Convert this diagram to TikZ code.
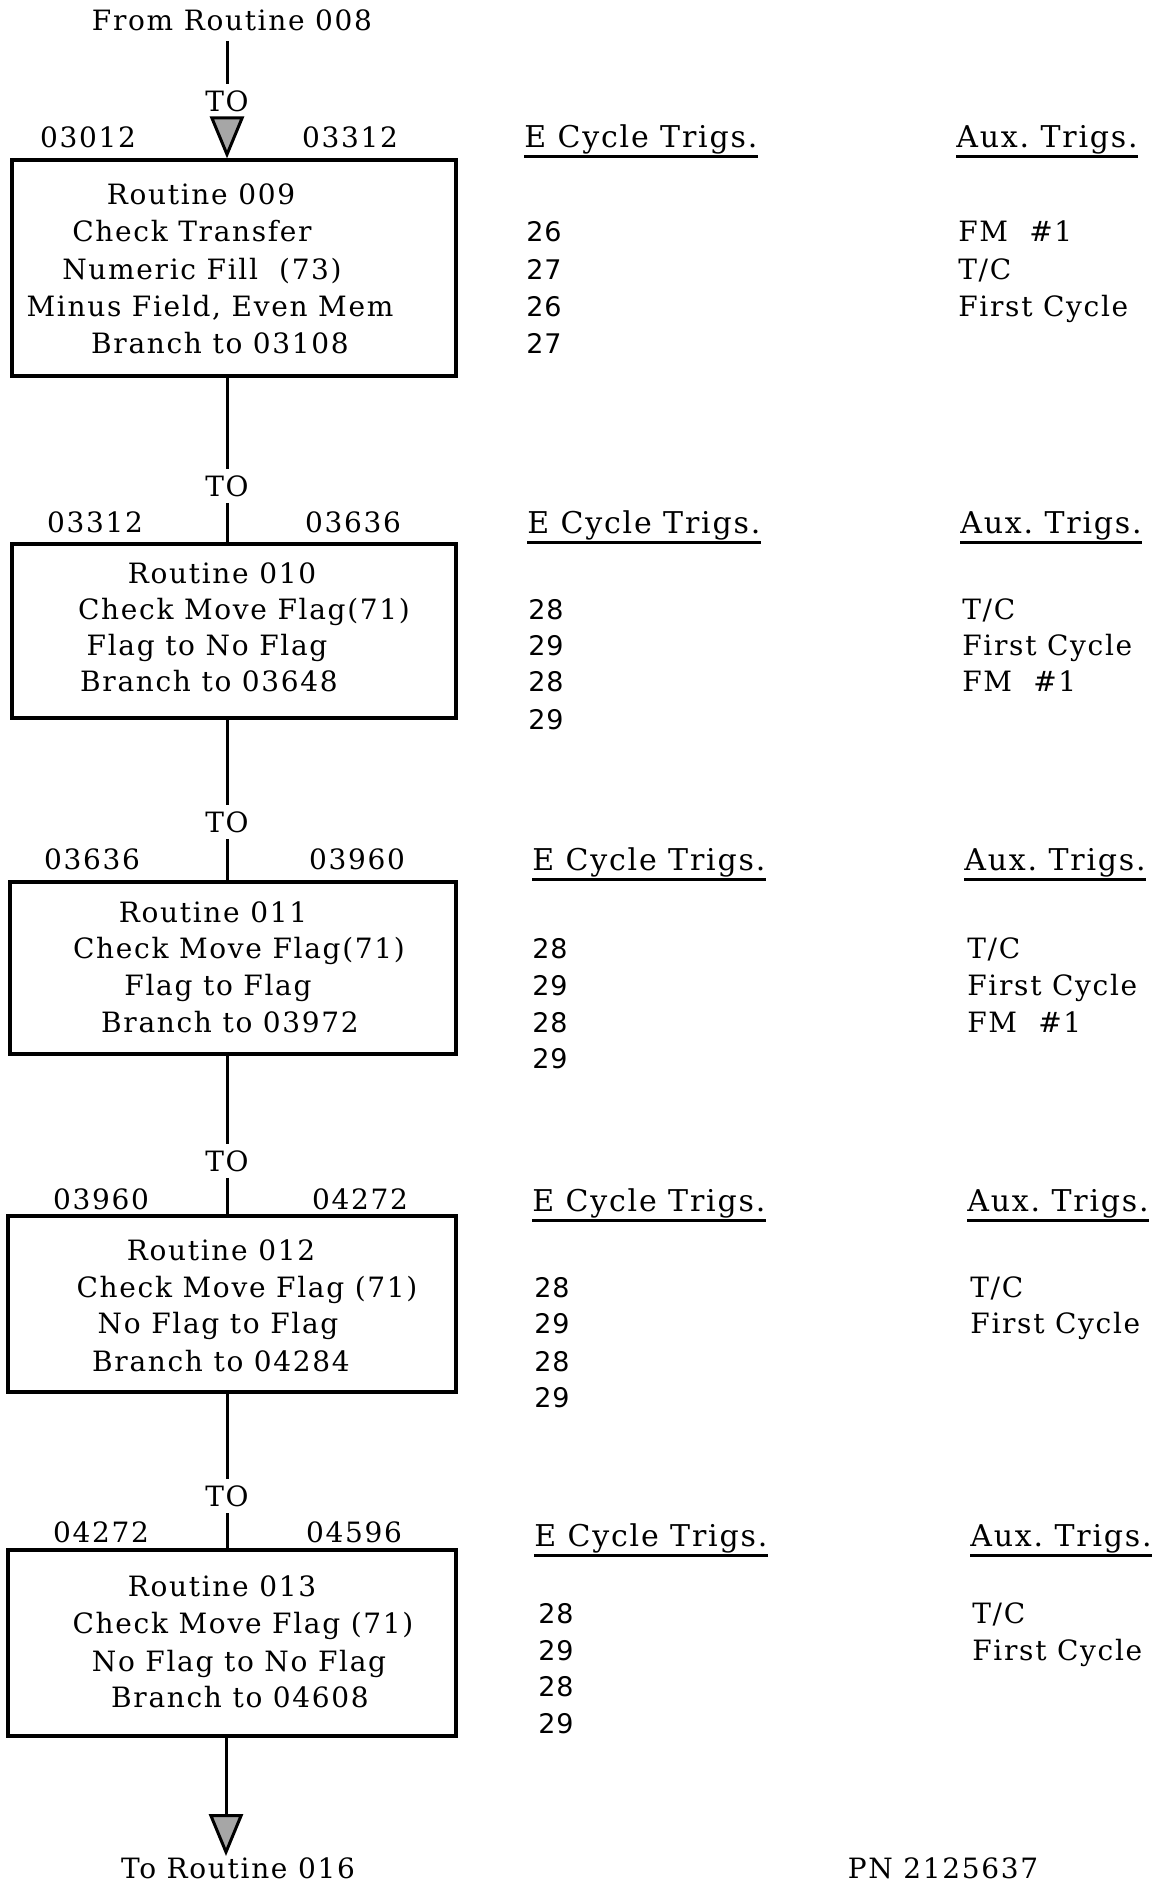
\documentclass[tikz,border=0pt]{standalone}
\usepackage{fontspec}
\setmainfont{DejaVu Serif}[LetterSpace=6]
\newfontfamily\digitfont{DejaVu Sans}[LetterSpace=3]
\usetikzlibrary{arrows.meta}
\begin{document}
\begin{tikzpicture}[x=0.5pt,y=-0.5pt,
  txt/.style={inner sep=0pt, font=\fontsize{14}{17}\selectfont, anchor=mid, yshift=-3pt},
  lbl/.style={txt, inner sep=3pt},
  hdr/.style={txt, anchor=mid west, font=\fontsize{15}{18}\selectfont},
  num/.style={inner sep=0pt, font=\digitfont\fontsize{13.5}{16}\selectfont, anchor=mid west, yshift=-3pt},
  aux/.style={txt, anchor=mid west},
  box/.style={draw, line width=1.6pt, inner sep=0pt},
  conn/.style={line width=1.5pt},
  uline/.style={line width=1.4pt},
  tip/.style={-{Triangle[width=17pt,length=21pt,fill=black!35]}}
]
\useasboundingbox (0,0) rectangle (1170,1883);

% ---------- boxes ----------
\node[box, minimum width=222pt, minimum height=108pt] (b9)  at (234,268)  {};
\node[box, minimum width=222pt, minimum height=87pt]  (b10) at (234,631)  {};
\node[box, minimum width=223pt, minimum height=86pt]  (b11) at (233,968)  {};
\node[box, minimum width=224pt, minimum height=88pt]  (b12) at (232,1304) {};
\node[box, minimum width=224pt, minimum height=93pt]  (b13) at (232,1643) {};

% ---------- box texts ----------
\node[txt] (t9a) at (201,193) {Routine 009};
\node[txt] (t9b) at (192,230) {Check Transfer};
\node[txt] (t9c) at (202,268) {Numeric Fill\ \ (73)};
\node[txt] (t9d) at (210,305) {Minus Field, Even Mem};
\node[txt] (t9e) at (220,342) {Branch to 03108};

\node[txt] (t10a) at (222,572) {Routine 010};
\node[txt] (t10b) at (244,608) {Check Move Flag(71)};
\node[txt] (t10c) at (207,644) {Flag to No Flag};
\node[txt] (t10d) at (209,680) {Branch to 03648};

\node[txt] (t11a) at (213,911)  {Routine 011};
\node[txt] (t11b) at (239,947)  {Check Move Flag(71)};
\node[txt] (t11c) at (218,984)  {Flag to Flag};
\node[txt] (t11d) at (230,1021) {Branch to 03972};

\node[txt] (t12a) at (221,1249) {Routine 012};
\node[txt] (t12b) at (247,1286) {Check Move Flag (71)};
\node[txt] (t12c) at (218,1322) {No Flag to Flag};
\node[txt] (t12d) at (221,1360) {Branch to 04284};

\node[txt] (t13a) at (222,1585) {Routine 013};
\node[txt] (t13b) at (243,1622) {Check Move Flag (71)};
\node[txt] (t13c) at (239,1660) {No Flag to No Flag};
\node[txt] (t13d) at (240,1696) {Branch to 04608};

% ---------- addresses ----------
\node[txt] (a9l)  at (88,136)   {03012};  \node[txt] (a9r)  at (350,136)  {03312};
\node[txt] (a10l) at (95,521)   {03312};  \node[txt] (a10r) at (353,521)  {03636};
\node[txt] (a11l) at (92,858)   {03636};  \node[txt] (a11r) at (357,858)  {03960};
\node[txt] (a12l) at (101,1198) {03960};  \node[txt] (a12r) at (360,1198) {04272};
\node[txt] (a13l) at (101,1531) {04272};  \node[txt] (a13r) at (354,1531) {04596};

% ---------- TO labels & terminals ----------
\node[txt] (from) at (232,19) {From Routine 008};
\node[lbl] (to0) at (227,100)  {TO};
\node[lbl] (to1) at (227,485)  {TO};
\node[lbl] (to2) at (227,821)  {TO};
\node[lbl] (to3) at (227,1160) {TO};
\node[lbl] (to4) at (227,1495) {TO};
\coordinate (end) at (226,1856);
\node[txt] (toR) at (238,1867) {To Routine 016};
\node[txt] (pn)  at (943,1867) {PN 2125637};

% ---------- connectors ----------
\draw[conn, shorten <=5pt] (from.south -| to0) -- (to0.north);
\draw[conn, tip] (to0.south) -- (to0 |- b9.north);
\draw[conn] (b9.south -| to1) -- (to1.north);
\draw[conn] (to1.south) -- (to1 |- b10.north);
\draw[conn] (b10.south -| to2) -- (to2.north);
\draw[conn] (to2.south) -- (to2 |- b11.north);
\draw[conn] (b11.south -| to3) -- (to3.north);
\draw[conn] (to3.south) -- (to3 |- b12.north);
\draw[conn] (b12.south -| to4) -- (to4.north);
\draw[conn] (to4.south) -- (to4 |- b13.north);
\draw[conn, tip] (b13.south -| end) -- (end);

% ---------- column headers ----------
\foreach \n/\xe/\xa/\y in {9/524/956/136, 10/527/960/522, 11/532/964/859, 12/532/967/1200, 13/534/970/1535}{
  \node[hdr] (e\n) at (\xe,\y) {E Cycle Trigs.};
  \node[hdr] (x\n) at (\xa,\y) {Aux.\ Trigs.};
  \draw[uline] ([yshift=-4.5pt]e\n.base west) -- ([yshift=-4.5pt]e\n.base east);
  \draw[uline] ([yshift=-4.5pt]x\n.base west) -- ([yshift=-4.5pt]x\n.base east);
}

% ---------- E cycle numbers ----------
\foreach \y/\t [count=\i] in {230/26, 268/27, 305/26, 342/27}
  \node[num] (n9-\i) at (526,\y) {\t};
\foreach \y/\t [count=\i] in {608/28, 644/29, 680/28, 718/29}
  \node[num] (n10-\i) at (528,\y) {\t};
\foreach \y/\t [count=\i] in {947/28, 984/29, 1021/28, 1057/29}
  \node[num] (n11-\i) at (532,\y) {\t};
\foreach \y/\t [count=\i] in {1286/28, 1322/29, 1360/28, 1396/29}
  \node[num] (n12-\i) at (534,\y) {\t};
\foreach \y/\t [count=\i] in {1612/28, 1649/29, 1685/28, 1722/29}
  \node[num] (n13-\i) at (538,\y) {\t};

% ---------- Aux trigs ----------
\node[aux] (u9-1) at (958,230) {FM\ \ \#1};
\node[aux] (u9-2) at (958,268) {T/C};
\node[aux] (u9-3) at (958,305) {First Cycle};

\node[aux] (u10-1) at (962,608) {T/C};
\node[aux] (u10-2) at (962,644) {First Cycle};
\node[aux] (u10-3) at (962,680) {FM\ \ \#1};

\node[aux] (u11-1) at (967,947)  {T/C};
\node[aux] (u11-2) at (967,984)  {First Cycle};
\node[aux] (u11-3) at (967,1021) {FM\ \ \#1};

\node[aux] (u12-1) at (970,1286) {T/C};
\node[aux] (u12-2) at (970,1322) {First Cycle};

\node[aux] (u13-1) at (972,1612) {T/C};
\node[aux] (u13-2) at (972,1649) {First Cycle};
\end{tikzpicture}
\end{document}
